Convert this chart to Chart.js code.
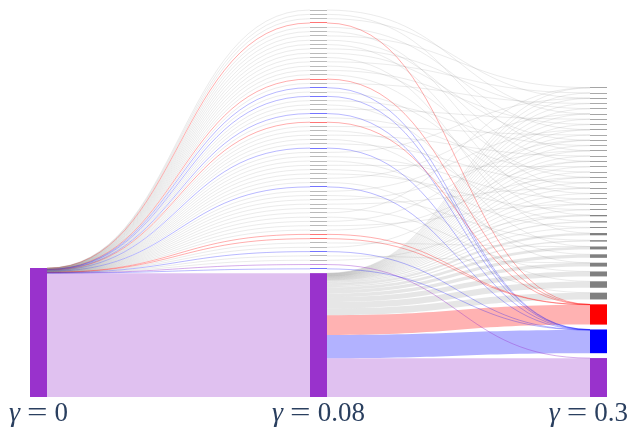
<!DOCTYPE html>
<html>
<head>
<meta charset="utf-8">
<script src="https://cdn.jsdelivr.net/npm/chart.js@4.4.0/dist/chart.umd.min.js"></script>
<style>
  html, body { margin: 0; padding: 0; background: #fff; }
</style>
</head>
<body>
<canvas id="chart" width="631" height="428"></canvas>
<script>
// resolution values, one column each
const gammaLabels = ['0', '0.08', '0.3'];

// gamma = 0.08: the one-item clusters, top to bottom,
// given as the index of the gamma = 0.3 cluster they end up in
const midSmallTarget = [
    5, 12, 2, 35, 8, 19, 0, 14, 22, 4,
    10, 27, 1, 17, 7, 24, 35, 3, 36, 20,
    36, 11, 29, 6, 36, 16, 35, 9, 25, 13,
    31, 18, 36, 2, 21, 30, 15, 26, 23, 5,
    33, 36, 8, 28, 12, 19, 32, 0, 34, 10,
    22, 17, 35, 35, 29, 14, 36, 31, 24, 37,
    36
];

// gamma = 0.3 clusters, top to bottom
const rightGroup = [
    'other', 'other', 'other', 'other', 'other', 'other', 'other', 'other', 'other', 'other',
    'other', 'other', 'other', 'other', 'other', 'other', 'other', 'other', 'other', 'other',
    'other', 'other', 'other', 'other', 'other', 'other', 'other', 'other', 'other', 'other',
    'other', 'other', 'other', 'other', 'other', 'B', 'C', 'A'
];

// items each gamma = 0.3 cluster receives from the big gamma = 0.08 cluster
const rightFromBig = [
    3, 3, 3, 3, 3, 3, 3, 4, 3, 3,
    3, 3, 3, 4, 4, 4, 4, 4, 5, 4,
    5, 5, 5, 6, 13, 15, 8, 26, 16, 33,
    41, 44, 58, 76, 80, 236, 275, 462
];

const NODE_HALF = 8.5;
const PAD = [0, 50.3, 58];
const groupNode = { A: '#9932cc', B: '#ff0000', C: '#0000ff', other: '#808080' };
const groupLink = { A: 'rgba(153,50,204,0.3)', B: 'rgba(255,0,0,0.3)', C: 'rgba(0,0,255,0.3)', other: 'rgba(128,128,128,0.2)' };
const groupThin = { A: 'rgba(153,50,204,0.4)', B: 'rgba(255,0,0,0.32)', C: 'rgba(0,0,255,0.28)', other: 'rgba(128,128,128,0.16)' };

const sum = arr => arr.reduce((a, b) => a + b, 0);

function buildSankey() {
    const nodes = [];
    const links = [];
    const mk = (col, group) => {
        const n = { col, group, value: 0, out: [], inc: [] };
        nodes.push(n);
        return n;
    };
    const left = mk(0, 'A');
    const midSmall = midSmallTarget.map(t => mk(1, rightGroup[t]));
    const midBig = mk(1, 'A');
    const right = rightGroup.map(g => mk(2, g));
    const link = (s, t, v, g) => {
        const l = { s, t, v, g };
        links.push(l);
        s.out.push(l);
        t.inc.push(l);
    };
    rightFromBig.forEach((v, i) => link(midBig, right[i], v, rightGroup[i]));
    link(left, midBig, sum(rightFromBig), 'A');
    midSmallTarget.forEach((t, i) => {
        link(left, midSmall[i], 1, rightGroup[t]);
        link(midSmall[i], right[t], 1, rightGroup[t]);
    });
    nodes.forEach(n => {
        n.value = Math.max(sum(n.out.map(l => l.v)), sum(n.inc.map(l => l.v)));
    });

    // stack every column from the bottom
    const cols = [[left], [...midSmall, midBig], right];
    let yMax = 0;
    cols.forEach((list, c) => {
        let y = 0;
        for (let i = list.length - 1; i >= 0; i--) {
            list[i].bottom = y;
            list[i].top = y + list[i].value;
            y = list[i].top + PAD[c];
        }
        yMax = Math.max(yMax, y - PAD[c]);
    });

    nodes.forEach(n => {
        n.out.sort((a, b) => b.t.top - a.t.top);
        let y = n.top;
        n.out.forEach(l => { l.sTop = y; y -= l.v; l.sBot = y; });
        n.inc.sort((a, b) => b.s.top - a.s.top);
        y = n.top;
        n.inc.forEach(l => { l.tTop = y; y -= l.v; l.tBot = y; });
    });
    return { nodes, links, yMax };
}

const sankey = buildSankey();

function drawLabel(ctx, num, cx, baseline) {
    const fam = '"Liberation Serif", "DejaVu Serif", serif';
    const gFont = `italic 28px ${fam}`;
    const tFont = `27px ${fam}`;
    ctx.font = gFont;
    const wG = ctx.measureText('γ').width;
    ctx.font = tFont;
    const eqScale = 1.35;
    const wEq = ctx.measureText('=').width * eqScale;
    const wN = ctx.measureText(num).width;
    const gap = 7;
    const total = wG + gap + wEq + gap + wN;
    let x = Math.min(cx - total / 2, ctx.canvas.width - 3 - total);
    ctx.fillStyle = '#2a3f5f';
    ctx.textBaseline = 'alphabetic';
    ctx.textAlign = 'left';
    ctx.font = gFont;
    ctx.fillText('γ', x, baseline);
    x += wG + gap;
    ctx.font = tFont;
    ctx.save();
    ctx.translate(x, baseline);
    ctx.scale(eqScale, 1);
    ctx.fillText('=', 0, 0);
    ctx.restore();
    x += wEq + gap;
    ctx.fillText(num, x, baseline);
}

const sankeyPlugin = {
    id: 'sankey',
    afterDraw(chart) {
        const { ctx, scales: { x: xs, y: ys } } = chart;
        const py = v => ys.getPixelForValue(v);
        ctx.save();

        const thick = [], thin = [];
        sankey.links.forEach(l => (py(l.sBot) - py(l.sTop) >= 1 ? thick : thin).push(l));

        thick.forEach(l => {
            const x0 = xs.getPixelForValue(l.s.col) + NODE_HALF;
            const x1 = xs.getPixelForValue(l.t.col) - NODE_HALF;
            const xm = (x0 + x1) / 2;
            ctx.beginPath();
            ctx.moveTo(x0, py(l.sTop));
            ctx.bezierCurveTo(xm, py(l.sTop), xm, py(l.tTop), x1, py(l.tTop));
            ctx.lineTo(x1, py(l.tBot));
            ctx.bezierCurveTo(xm, py(l.tBot), xm, py(l.sBot), x0, py(l.sBot));
            ctx.closePath();
            ctx.fillStyle = groupLink[l.g];
            ctx.fill();
        });

        ctx.lineWidth = 1;
        thin.forEach(l => {
            const x0 = xs.getPixelForValue(l.s.col) + NODE_HALF;
            const x1 = xs.getPixelForValue(l.t.col) - NODE_HALF;
            const xm = (x0 + x1) / 2;
            const ya = py((l.sTop + l.sBot) / 2);
            const yb = py((l.tTop + l.tBot) / 2);
            ctx.beginPath();
            ctx.moveTo(x0, ya);
            ctx.bezierCurveTo(xm, ya, xm, yb, x1, yb);
            ctx.strokeStyle = groupThin[l.g];
            ctx.stroke();
        });

        sankey.nodes.forEach(n => {
            const cx = xs.getPixelForValue(n.col);
            const yTop = py(n.top), yBot = py(n.bottom);
            const h = yBot - yTop;
            ctx.fillStyle = groupNode[n.group];
            if (h < 1) {
                ctx.globalAlpha = 0.5 + 0.5 * h;
                const yc = Math.round((yTop + yBot) / 2 - 0.5);
                ctx.fillRect(cx - NODE_HALF, yc, NODE_HALF * 2, 1);
                ctx.globalAlpha = 1;
            } else {
                ctx.fillRect(cx - NODE_HALF, yTop, NODE_HALF * 2, h);
            }
        });

        gammaLabels.forEach((g, i) => drawLabel(ctx, g, xs.getPixelForValue(i), 421));
        ctx.restore();
    }
};

new Chart(document.getElementById('chart'), {
    type: 'scatter',
    data: { datasets: [] },
    options: {
        responsive: false,
        animation: false,
        layout: { padding: { left: 38.5, right: 32.5, top: 10, bottom: 31 } },
        scales: {
            x: { type: 'linear', min: 0, max: 2, display: false },
            y: { type: 'linear', min: 0, max: sankey.yMax, display: false }
        },
        plugins: { legend: { display: false }, tooltip: { enabled: false } }
    },
    plugins: [sankeyPlugin]
});
</script>
</body>
</html>
